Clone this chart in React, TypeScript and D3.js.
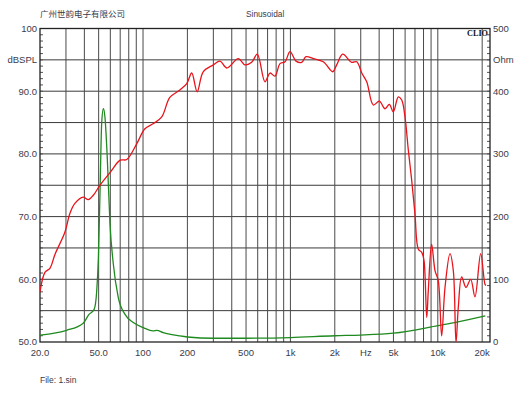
import React from 'react';
import * as d3 from 'd3';

// SPL response (red)
const splFreq = [20, 21.6, 23.4, 25.3, 29.5, 31.9, 34.5, 39.3, 42.5, 46, 51, 60, 70, 77.5, 90.6, 103, 117, 134, 152, 178,
  198, 214, 233, 256, 300, 333, 370, 443, 492, 546, 596, 672, 727, 786, 850, 919, 994, 1092, 1192, 1276,
  1430, 1672, 1936, 2060, 2264, 2607, 2819, 3048, 3294, 3652, 4011, 4386, 4690, 4989, 5396, 5690, 5989, 6309, 6650, 7000,
  7380, 7780, 8060, 8410, 8620, 9080, 9570, 10070, 10620, 11190, 12100, 12740, 13290, 13770, 14520, 15530, 16710, 17870, 19540, 20890, 21200];
const splDb = [58.0, 61.1, 61.8, 64.0, 67.5, 70.5, 72.1, 73.1, 72.7, 73.4, 75.0, 77.1, 79.0, 79.1, 81.6, 84.0, 84.8, 85.9, 89.0, 90.2,
  91.2, 92.9, 89.9, 93.1, 94.2, 94.8, 93.7, 95.2, 94.2, 94.6, 95.9, 91.5, 92.9, 92.4, 94.4, 94.7, 96.3, 94.8, 94.6, 95.5,
  95.2, 94.7, 93.1, 94.2, 95.9, 94.6, 94.7, 92.9, 91.5, 87.8, 88.4, 87.2, 87.9, 86.7, 89.1, 88.6, 85.9, 80.6, 75.8, 70.4,
  64.8, 64.3, 63.0, 53.9, 58.2, 65.6, 61.4, 59.8, 51.0, 58.7, 64.1, 61.4, 49.9, 55.5, 60.4, 58.7, 60.0, 57.2, 64.1, 59.2, 59.0];

// impedance (green), ohm
const impFreq = [20, 25, 30.3, 39.3, 43, 46.6, 48.5, 49.8, 51.1, 52.4, 53.8, 55.2, 57.2, 59.7, 62.9, 67.9, 75.5, 85.9, 100.4, 117,
  124, 137, 178, 200, 300, 500, 1000, 2000, 3000, 5000, 10000, 13000, 21000];
const impOhm = [11, 14, 18.7, 30, 44, 52, 81, 135, 241, 348, 372, 358, 294, 188, 124, 71, 44, 31, 23, 17.6,
  18.7, 15, 9.6, 8, 6, 6, 7, 10, 11, 14, 26, 31, 41.5];

const gridFreqs = [30, 40, 50, 60, 70, 80, 90, 100, 200, 300, 400, 500, 600, 700, 800, 900,
  1000, 2000, 3000, 4000, 5000, 6000, 7000, 8000, 9000, 10000, 20000];
const xTickValues = [20, 50, 100, 200, 500, 1000, 2000, 3250, 5000, 10000, 20000];
const xTickLabels = ['20.0', '50.0', '100', '200', '500', '1k', '2k', 'Hz', '5k', '10k', '20k'];
const dbTickValues = [50, 60, 70, 80, 90, 95, 100];
const dbTickLabels = ['50.0', '60.0', '70.0', '80.0', '90.0', 'dBSPL', '100'];
const ohmTickValues = [0, 100, 200, 300, 400, 450, 500];
const ohmTickLabels = ['0', '100', '200', '300', '400', 'Ohm', '500'];

const W = 530;
const H = 398;
const left = 40;
const right = 490;
const top = 28.5;
const bottom = 342;

export default function App() {
  const x = d3.scaleLog().domain([20, 22600]).range([left, right]);
  const y = d3.scaleLinear().domain([50, 100]).range([bottom, top]);
  const yOhm = d3.scaleLinear().domain([0, 500]).range([bottom, top]);

  const splLine = d3.line<number>()
    .x((_, i) => x(splFreq[i]))
    .y((d) => y(d))
    .curve(d3.curveCatmullRom.alpha(0.5));
  const impLine = d3.line<number>()
    .x((_, i) => x(impFreq[i]))
    .y((d) => yOhm(d))
    .curve(d3.curveMonotoneX);

  const hGrid = d3.range(55, 100, 5);
  const dbMinor = d3.range(51, 100, 1);
  const ohmMinor = d3.range(10, 500, 10);
  const txt = '#3b3b4b';
  const font = '"Liberation Sans", Arial, sans-serif';

  return (
    <svg width={W} height={H} style={{ position: 'absolute', left: 0, top: 0, background: '#fff' }}
      fontFamily={font}>
      <defs>
        <clipPath id="plot">
          <rect x={left} y={top} width={right - left} height={bottom - top} />
        </clipPath>
      </defs>
      <text x={40} y={17} fontSize={8.5} fill={txt} fontFamily='"Noto Sans CJK SC", sans-serif'>广州世韵电子有限公司</text>
      <text x={246} y={17} fontSize={8.3} fill={txt}>Sinusoidal</text>

      {/* grid */}
      {hGrid.map((v) => (
        <line key={'h' + v} x1={left} x2={right} y1={y(v)} y2={y(v)} stroke="#3a3a3a" strokeWidth={1} />
      ))}
      {gridFreqs.map((f) => (
        <line key={'v' + f} x1={x(f)} x2={x(f)} y1={top} y2={bottom} stroke="#4a4a4a" strokeWidth={1} />
      ))}
      {dbMinor.map((v) => (
        <line key={'m' + v} x1={left} x2={left + 3} y1={y(v)} y2={y(v)} stroke="#555" strokeWidth={1} />
      ))}
      {ohmMinor.map((v) => (
        <line key={'o' + v} x1={right - 3} x2={right} y1={yOhm(v)} y2={yOhm(v)} stroke="#555" strokeWidth={1} />
      ))}
      <rect x={left} y={top} width={right - left} height={bottom - top} fill="none" stroke="#222" strokeWidth={1.3} />

      <g clipPath="url(#plot)">
        <path d={impLine(impOhm) || ''} fill="none" stroke="#1f8a1f" strokeWidth={1.3} />
        <path d={splLine(splDb) || ''} fill="none" stroke="#e8141c" strokeWidth={1.3} />
      </g>

      <text x={488} y={36} fontSize={8.2} fontWeight="bold" textAnchor="end"
        fontFamily='"Liberation Serif", "DejaVu Serif", serif' fill="#111">CLIO</text>

      {dbTickValues.map((v, i) => (
        <text key={'dl' + v} x={37} y={y(v)} dy="0.35em" fontSize={9.5} textAnchor="end" fill={txt}>{dbTickLabels[i]}</text>
      ))}
      {ohmTickValues.map((v, i) => (
        <text key={'ol' + v} x={493} y={yOhm(v)} dy="0.35em" fontSize={9.5} fill={txt}>{ohmTickLabels[i]}</text>
      ))}
      {xTickValues.map((v, i) => (
        <text key={'xl' + v} x={x(v)} y={355.5} fontSize={9.5} textAnchor="middle" fill={txt}>{xTickLabels[i]}</text>
      ))}
      <text x={40} y={383} fontSize={8.5} fill={txt}>File: 1.sin</text>
    </svg>
  );
}
